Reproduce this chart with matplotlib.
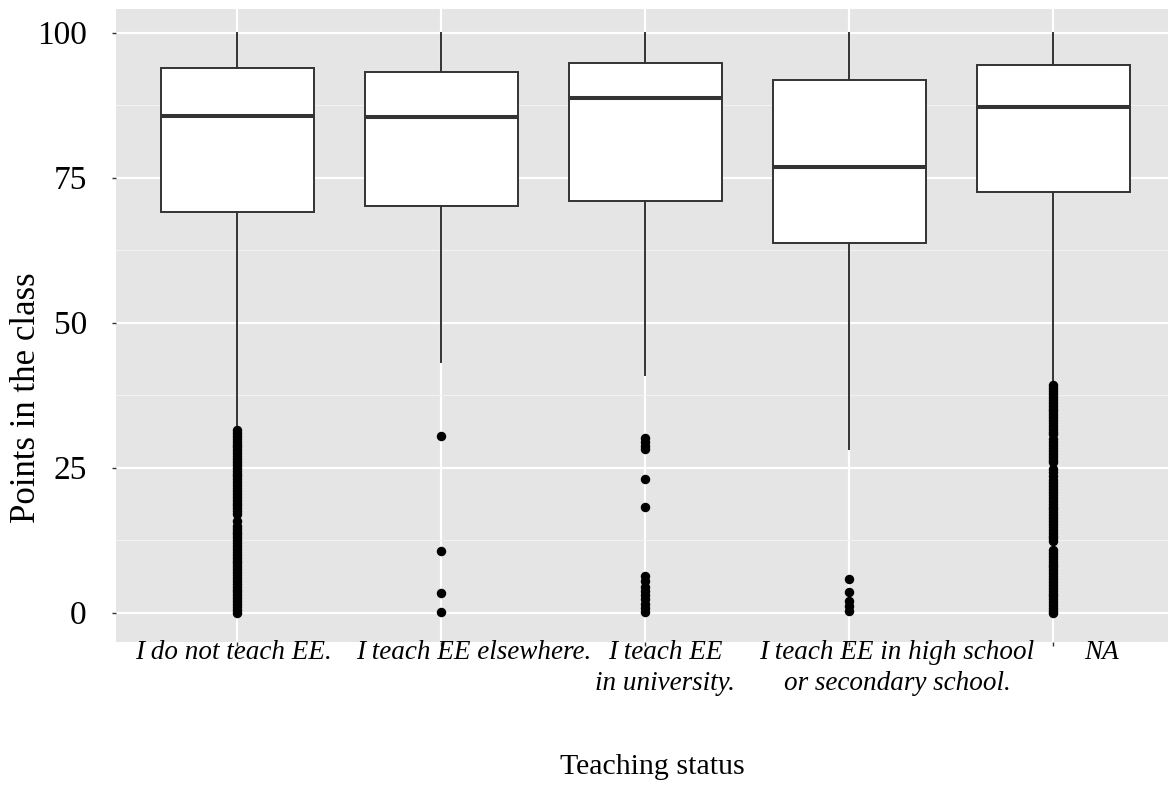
import matplotlib
matplotlib.use("Agg")
import matplotlib.pyplot as plt
import matplotlib.transforms as mtransforms
from matplotlib.ticker import MultipleLocator

plt.rcParams['font.family'] = ['Liberation Serif', 'DejaVu Serif']

categories = ["I do not teach EE.", "I teach EE elsewhere.", "I teach EE\nin university.",
              "I teach EE in high school\nor secondary school.", "NA"]
q1 = [69.1, 70.2, 70.9, 63.8, 72.6]
med = [85.7, 85.5, 88.8, 76.9, 87.2]
q3 = [93.9, 93.2, 94.8, 91.9, 94.5]
whislo = [32.2, 43.3, 41.0, 28.3, 39.7]
whishi = [100, 100, 100, 100, 100]

outliers_1 = [31.5, 31.0, 30.5, 30.0, 29.5, 29.0, 28.5, 28.0, 27.5, 27.0, 26.5, 26.0, 25.5, 25.0,
              24.5, 24.0, 23.5, 23.0, 22.5, 22.0, 21.5, 21.0, 20.5, 20.0, 19.5, 19.0, 18.5, 18.0,
              17.5, 17.0, 15.8, 15.0, 14.5, 14.0, 13.5, 13.0, 12.5, 12.0, 11.5, 11.0, 10.5, 10.0,
              9.5, 9.0, 8.5, 8.0, 7.5, 7.0, 6.5, 6.0, 5.5, 5.0, 4.5, 4.0, 3.5, 3.0, 2.5, 2.0,
              1.5, 1.0, 0.5, 0.0]
outliers_2 = [30.5, 10.7, 3.4, 0.2]
outliers_3 = [30.2, 29.5, 28.8, 28.2, 23.0, 18.2, 6.3, 5.5, 4.5, 3.8, 3.0, 2.3, 1.5, 0.8, 0.2]
outliers_4 = [5.8, 3.5, 2.0, 1.2, 0.3]
outliers_5 = [39.2, 38.7, 38.2, 37.7, 37.2, 36.7, 36.2, 35.7, 35.2, 34.7, 34.2, 33.7, 33.2, 32.7,
              32.2, 31.7, 31.2, 30.8, 29.9, 29.4, 28.9, 28.4, 27.9, 27.4, 26.9, 26.4, 25.9, 24.7,
              24.2, 23.6, 22.8, 22.3, 21.8, 21.3, 20.8, 20.3, 19.8, 19.3, 18.8, 18.3, 17.8, 17.3,
              16.8, 16.3, 15.8, 15.3, 14.8, 14.3, 13.8, 13.3, 12.8, 12.3, 10.8, 10.3, 9.8, 9.3,
              8.8, 8.3, 7.8, 7.3, 6.8, 6.3, 5.8, 5.3, 4.8, 4.3, 3.8, 3.3, 2.8, 2.3, 1.8, 1.3,
              0.8, 0.3, 0.0]
outliers = [outliers_1, outliers_2, outliers_3, outliers_4, outliers_5]

yticks = [0, 25, 50, 75, 100]

# horizontal shift (pixels) of each category label, as in the reference rendering
label_dx = [-4, 33, 20, 48, 49]

W, H = 1168, 785
fig = plt.figure(figsize=(W / 100, H / 100), dpi=100)
ax = fig.add_axes([116 / W, (H - 642) / H, (W - 116) / W, (642 - 9) / H])
ax.set_facecolor('#E5E5E5')
for s in ax.spines.values():
    s.set_visible(False)

positions = list(range(1, len(categories) + 1))
stats = []
for i, c in enumerate(categories):
    stats.append(dict(label=c, q1=q1[i], med=med[i], q3=q3[i],
                      whislo=whislo[i], whishi=whishi[i], fliers=outliers[i]))

ec = '#333333'
ax.bxp(stats, positions=positions, widths=0.75, showcaps=False, patch_artist=True,
       boxprops=dict(facecolor='white', edgecolor=ec, linewidth=1.4),
       medianprops=dict(color=ec, linewidth=2.9),
       whiskerprops=dict(color=ec, linewidth=1.4),
       flierprops=dict(marker='o', markerfacecolor='black', markeredgecolor='black',
                       markersize=5.8, linestyle='none'),
       zorder=3)

ax.set_xlim(1 - (237 - 116) / 204, 1 + (W - 237) / 204)
ax.set_ylim((612.7 - 642) / 5.8, (612.7 - 9) / 5.8)

ax.set_yticks(yticks)
ax.yaxis.set_minor_locator(MultipleLocator(12.5))
ax.set_xticks(positions)
ax.set_xticklabels([])
ax.tick_params(axis='y', which='major', labelsize=24, length=3, width=1, color=ec, pad=18)
ax.tick_params(axis='y', which='minor', length=0)
ax.tick_params(axis='x', length=3, width=1, color=ec)

ax.grid(True, which='major', color='white', linewidth=1.6, zorder=0)
ax.grid(True, which='minor', axis='y', color='#F2F2F2', linewidth=0.8, zorder=0)
ax.set_axisbelow(True)

# category labels below the ticks
xtrans = ax.get_xaxis_transform()
for pos, lab, dx in zip(positions, categories, label_dx):
    tr = xtrans + mtransforms.ScaledTranslation(dx / 100, 2 / 100, fig.dpi_scale_trans)
    ax.text(pos, 0, lab, transform=tr, ha='center', va='top', fontsize=19.5,
            fontstyle='italic', linespacing=1.3, multialignment='center', clip_on=False)

ax.set_ylabel('Points in the class', fontsize=25)
ax.yaxis.set_label_coords((43 - 116) / 1052, (642 - 398) / 633)
ax.set_xlabel('Teaching status', fontsize=21.5)
ax.xaxis.set_label_coords((652 - 116) / 1052, (642 - 754) / 633)

fig.savefig('out.png', dpi=100)
